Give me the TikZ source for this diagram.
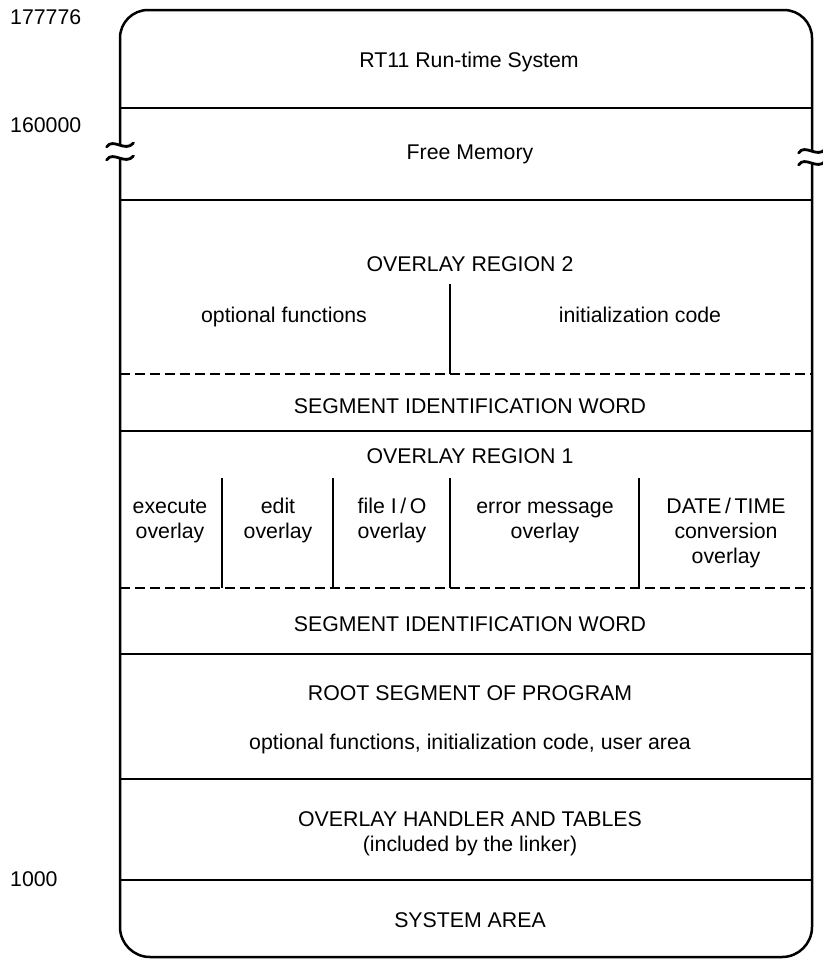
\documentclass[tikz,border=0pt]{standalone}
\usepackage{fontspec}
\setmainfont{Liberation Sans}
\newcommand{\topstrut}{\rule{0pt}{16pt}}
\begin{document}
\begin{tikzpicture}[x=1pt,y=-1pt,
  font=\fontsize{21.3}{25}\selectfont,
  outline/.style={line width=2.5pt, line join=round, line cap=round},
  breakmark/.style={line width=2.8pt, line cap=round},
  rule/.style={line width=1.5pt},
  dashrule/.style={line width=1.5pt, dash pattern=on 10pt off 5pt},
  divider/.style={line width=2pt},
  lbl/.style={align=center, inner sep=0pt, anchor=base},
  cell/.style={align=center, inner sep=0pt, anchor=north},
  addr/.style={anchor=base west, inner sep=0pt}]
\useasboundingbox (0,0) rectangle (822,961);

% memory block outline, broken at the free-memory gap
\coordinate (tl) at (120,10);  \coordinate (tr) at (812,10);
\coordinate (bl) at (120,957); \coordinate (br) at (812,957);
\coordinate (lbrkA) at (120,145); \coordinate (lbrkB) at (120,158);
\coordinate (rbrkA) at (812,151); \coordinate (rbrkB) at (812,163);
\draw[outline, rounded corners=28pt] (lbrkA) -- (tl) -- (tr) -- (rbrkA);
\draw[outline, rounded corners=30pt] (lbrkB) -- (bl) -- (br) -- (rbrkB);

% break marks
\foreach \c in {lbrkA,lbrkB,rbrkA,rbrkB}{
  \draw[breakmark] ([shift={(-13.5,2)}]\c)
    .. controls ([shift={(-7,-8)}]\c) and ([shift={(5,8)}]\c) .. ([shift={(13.5,-2)}]\c);
}

% horizontal boundaries
\foreach \y in {108,200,431,654,779,880}{
  \draw[rule] (120,\y) -- (812,\y);
}
\foreach \y in {374,588}{
  \draw[dashrule] (120,\y) -- (812,\y);
}

% overlay region 2 divider
\coordinate (r2top) at (450,284); \coordinate (r2bot) at (450,374);
\draw[divider] (r2top) -- (r2bot);

% overlay region 1 dividers
\foreach \x in {222,333,450,639}{
  \draw[divider] (\x,478) -- (\x,588);
}

% address labels
\node[addr] (a1) at (10,24)  {177776};
\node[addr] (a2) at (10,132) {160000};
\node[addr] (a3) at (10,886) {1000};

% segment texts
\node[lbl] (rt)   at (469,67)  {RT11 Run-time System};
\node[lbl] (free) at (470,159) {Free Memory};
\node[lbl] (ov2)  at (470,271) {OVERLAY REGION 2};
\node[lbl] (opt)  at (284,322) {optional functions};
\node[lbl] (init) at (640,322) {initialization code};
\node[lbl] (siw2) at (470,413) {SEGMENT IDENTIFICATION WORD};
\node[lbl] (ov1)  at (470,463) {OVERLAY REGION 1};
\node[cell] (exe)  at (170,497) {\topstrut execute\\overlay};
\node[cell] (edit) at (278,497) {\topstrut edit\\overlay};
\node[cell] (fio)  at (392,497) {\topstrut file I\,/\,O\\overlay};
\node[cell] (err)  at (545,497) {\topstrut error message\\overlay};
\node[cell] (dt)   at (726,497) {\topstrut DATE\,/\,TIME\\conversion\\overlay};
\node[lbl] (siw1) at (470,631) {SEGMENT IDENTIFICATION WORD};
\node[lbl] (root) at (470,700) {ROOT SEGMENT OF PROGRAM};
\node[lbl] (rootd) at (470,749) {optional functions, initialization code, user area};
\node[cell] (ovh)  at (470,810) {\topstrut OVERLAY HANDLER AND TABLES\\(included by the linker)};
\node[lbl] (sys)  at (470,927) {SYSTEM AREA};
\end{tikzpicture}
\end{document}
